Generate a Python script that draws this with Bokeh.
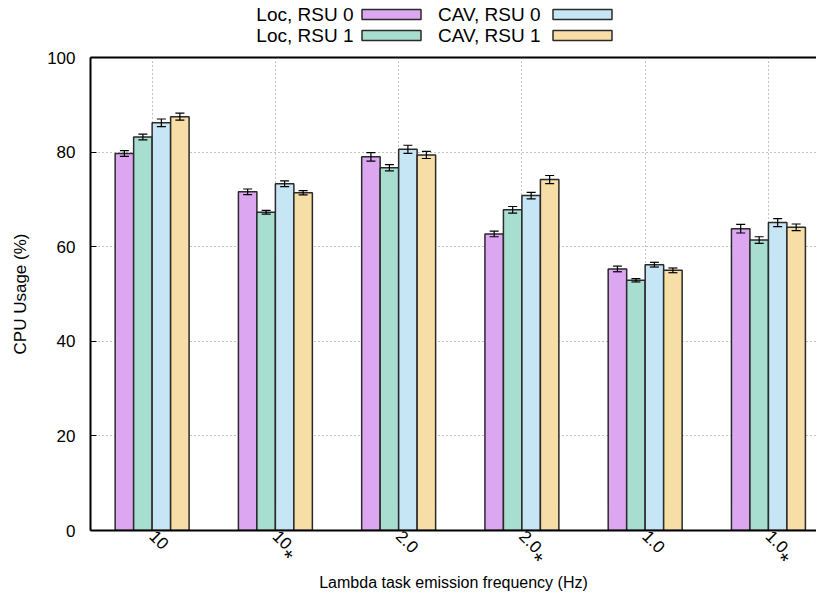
import math
from bokeh.plotting import figure
from bokeh.layouts import column
from bokeh.models import (ColumnDataSource, Range1d, FixedTicker, Whisker, TeeHead, LinearAxis)
from bokeh.core.properties import value
from bokeh.embed import file_html
from bokeh.resources import INLINE

categories = ["10", "10⁎", "2.0", "2.0⁎", "1.0", "1.0⁎"]
series = ["Loc, RSU 0", "Loc, RSU 1", "CAV, RSU 0", "CAV, RSU 1"]
loc_rsu0 = [79.7, 71.6, 79.0, 62.7, 55.3, 63.8]
loc_rsu1 = [83.2, 67.3, 76.7, 67.8, 52.9, 61.4]
cav_rsu0 = [86.2, 73.3, 80.6, 70.8, 56.2, 65.1]
cav_rsu1 = [87.5, 71.4, 79.4, 74.2, 55.0, 64.1]
err_loc_rsu0 = [0.6, 0.6, 0.9, 0.6, 0.6, 0.9]
err_loc_rsu1 = [0.6, 0.4, 0.65, 0.7, 0.35, 0.7]
err_cav_rsu0 = [0.8, 0.6, 0.85, 0.7, 0.5, 0.85]
err_cav_rsu1 = [0.75, 0.45, 0.75, 0.85, 0.5, 0.7]
y_ticks = [0, 20, 40, 60, 80, 100]

values = [loc_rsu0, loc_rsu1, cav_rsu0, cav_rsu1]
errors = [err_loc_rsu0, err_loc_rsu1, err_cav_rsu0, err_cav_rsu1]
colors = ["#DCA6F0", "#A8DED0", "#C6E5F5", "#F6DEA6"]

FONT = "Liberation Sans"
W = 816
LEFT = 90
LEG_H = 50

# ---------------- legend strip (gnuplot style: label then swatch) ----------------
leg = figure(width=W, height=LEG_H, output_backend="svg", toolbar_location=None,
             x_range=Range1d(LEFT, W), y_range=Range1d(LEG_H, 0),
             min_border_left=LEFT, min_border_right=0, min_border_top=0, min_border_bottom=0,
             x_axis_type=None, y_axis_type=None)
leg.outline_line_color = None
leg.xgrid.visible = False
leg.ygrid.visible = False
col_text_right = [353, 540]
swatch_center = [391, 582]
row_y = [14, 35]
txt_x, txt_y, sw_x, sw_y = [], [], [], []
for i, name in enumerate(series):
    c, r = i // 2, i % 2
    txt_x.append(col_text_right[c])
    txt_y.append(row_y[r])
    sw_x.append(swatch_center[c])
    sw_y.append(row_y[r])
leg.text(x=txt_x, y=txt_y, text=series, text_align="right", text_baseline="middle",
         text_font=value(FONT), text_font_size="19px", text_color="black")
leg.rect(x=sw_x, y=sw_y, width=59, height=10, fill_color=colors,
         line_color="#2a2a2a", line_width=1.5)

# ---------------- main chart ----------------
p = figure(width=W, height=548, output_backend="svg", toolbar_location=None,
           x_range=Range1d(-0.5, 5.39), y_range=Range1d(0, 100),
           min_border_left=LEFT, min_border_right=0, min_border_top=7, min_border_bottom=68)
p.outline_line_color = None

bar_w = 0.15
offsets = [-1.5 * bar_w, -0.5 * bar_w, 0.5 * bar_w, 1.5 * bar_w]
xs = list(range(len(categories)))
for vals, errs, col, off in zip(values, errors, colors, offsets):
    src = ColumnDataSource(dict(x=[x + off for x in xs], top=vals,
                                upper=[v + e for v, e in zip(vals, errs)],
                                lower=[v - e for v, e in zip(vals, errs)]))
    p.vbar(x="x", top="top", width=bar_w, source=src, fill_color=col,
           line_color="#2a2a2a", line_width=1.5)
    w = Whisker(source=src, base="x", upper="upper", lower="lower",
                line_color="black", line_width=1.2,
                upper_head=TeeHead(size=9, line_color="black", line_width=1.2),
                lower_head=TeeHead(size=9, line_color="black", line_width=1.2))
    w.level = "overlay"
    p.add_layout(w)

p.xaxis.ticker = FixedTicker(ticks=xs)
p.xaxis.major_label_overrides = {i: c for i, c in enumerate(categories)}
p.xaxis.major_label_orientation = -math.pi / 4
p.xaxis.major_tick_in = 0
p.xaxis.major_tick_out = 0
p.xaxis.minor_tick_line_color = None
p.xaxis.axis_label = "Lambda task emission frequency (Hz)"
p.yaxis.ticker = FixedTicker(ticks=y_ticks)
p.yaxis.major_tick_in = 6
p.yaxis.major_tick_out = 0
p.yaxis.minor_tick_line_color = None
p.yaxis.axis_label = "CPU Usage (%)"
for ax in [p.xaxis[0], p.yaxis[0]]:
    ax.axis_line_width = 2
    ax.axis_line_color = "black"
    ax.major_tick_line_color = "black"
    ax.major_label_text_font = FONT
    ax.major_label_text_font_size = "17px"
    ax.major_label_text_color = "black"
    ax.axis_label_text_font = FONT
    ax.axis_label_text_font_style = "normal"
    ax.axis_label_text_color = "black"
p.xaxis.axis_label_text_font_size = "16px"
p.yaxis.axis_label_text_font_size = "17px"
p.xaxis.major_label_standoff = 3
p.xaxis.axis_label_standoff = 1
p.yaxis.major_label_standoff = 15
p.yaxis.axis_label_standoff = 14

top_axis = LinearAxis(ticker=FixedTicker(ticks=[]), major_label_text_font_size="0px",
                      axis_line_width=2, axis_line_color="black",
                      major_tick_line_color=None, minor_tick_line_color=None,
                      major_tick_out=0, major_label_standoff=0)
p.add_layout(top_axis, "above")

p.xgrid.ticker = FixedTicker(ticks=xs)
p.ygrid.ticker = FixedTicker(ticks=y_ticks[1:-1])
for g in [p.xgrid[0], p.ygrid[0]]:
    g.grid_line_color = "#888888"
    g.grid_line_dash = "1 3"
    g.grid_line_width = 1

layout = column(leg, p, spacing=0)
open("out.html", "w").write(file_html(layout, INLINE))
